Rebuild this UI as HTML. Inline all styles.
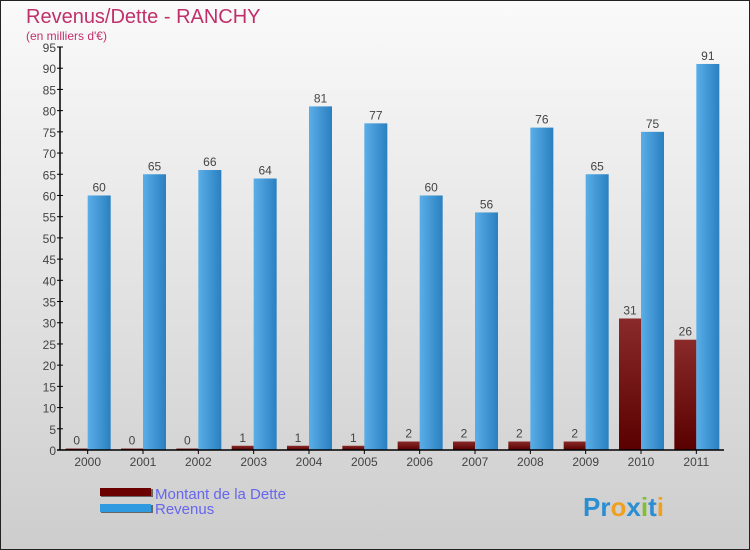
<!DOCTYPE html>
<html><head><meta charset="utf-8"><style>
body{margin:0}
#c{width:750px;height:550px;position:relative;overflow:hidden;font-family:"Liberation Sans",sans-serif}
</style></head><body>
<div id="c">
<svg width="750" height="550" xmlns="http://www.w3.org/2000/svg">
<defs>
<linearGradient id="bg" x1="0" y1="0" x2="0" y2="1"><stop offset="0" stop-color="#fafafa"/><stop offset="1" stop-color="#cdcdcd"/></linearGradient>
<linearGradient id="blue" x1="0" y1="0" x2="1" y2="0"><stop offset="0" stop-color="#5aaee8"/><stop offset="1" stop-color="#2a7fc0"/></linearGradient>
<linearGradient id="blueV" x1="0" y1="0" x2="0" y2="1"><stop offset="0" stop-color="#58aee8"/><stop offset="1" stop-color="#2878b4"/></linearGradient>
<linearGradient id="red" x1="0" y1="0" x2="0" y2="1"><stop offset="0" stop-color="#8a2a2a"/><stop offset="1" stop-color="#5a0000"/></linearGradient>
</defs>
<rect x="0.5" y="0.5" width="749" height="549" fill="url(#bg)" stroke="#222"/>
<text x="26" y="23" font-size="20" fill="#c0306a">Revenus/Dette - RANCHY</text>
<text x="26" y="40" font-size="12" fill="#c0306a">(en milliers d'€)</text>
<g id="plot"></g>
<g>
<rect x="101" y="489" width="52" height="8" fill="#666"/><rect x="100" y="488" width="51" height="8" fill="#6a0000"/>
<text x="155" y="499" font-size="15" fill="#6666ee">Montant de la Dette</text>
<rect x="101" y="505" width="52" height="8" fill="#666"/><rect x="100" y="504" width="51" height="8" fill="#2f9ae0"/>
<text x="155" y="514" font-size="15" fill="#6666ee">Revenus</text>
</g>
<text x="583" y="516" font-size="26" font-weight="bold"><tspan fill="#2a8ed0">Pr</tspan><tspan fill="#f0a020">o</tspan><tspan fill="#2a8ed0">x</tspan><tspan fill="#80c030">i</tspan><tspan fill="#2a8ed0">t</tspan><tspan fill="#f0a020">i</tspan></text>
</svg>
</div>
<script>
const years=["2000","2001","2002","2003","2004","2005","2006","2007","2008","2009","2010","2011"];
const dette=[0,0,0,1,1,1,2,2,2,2,31,26];
const revenus=[60,65,66,64,81,77,60,56,76,65,75,91];
const yTicks=[0,5,10,15,20,25,30,35,40,45,50,55,60,65,70,75,80,85,90,95];
const NS="http://www.w3.org/2000/svg";
const g=document.getElementById('plot');
const x0=60,x1=724,y0=450,yTop=47,yMax=95;
const gw=(x1-x0)/years.length;
const y=v=>y0-(v/yMax)*(y0-yTop);
function mk(t,a,p){const e=document.createElementNS(NS,t);for(const k in a)e.setAttribute(k,a[k]);(p||g).appendChild(e);return e;}
yTicks.forEach(v=>{
 const t=mk('text',{x:x0-4,y:y(v)+5,'font-size':12,fill:'#444','text-anchor':'end'});
 
 
 t.textContent=v;
 const l=mk('line',{x1:x0-3,x2:x0+3,y1:y(v),y2:y(v),stroke:'#000'});
 
 
});
years.forEach((yr,i)=>{
 const c=x0+gw*(i+0.5);
 const dh=Math.max(y0-y(dette[i]),1.5);
 const d=mk('rect',{x:c-22,y:y0-dh,width:22,height:dh,fill:'url(#red)'});
 
 
 const r=mk('rect',{x:c,y:y(revenus[i]),width:23,height:y0-y(revenus[i]),fill:'url(#blue)'});
 
 
 const t1=mk('text',{x:c-11,y:y0-dh-4,'font-size':12,fill:'#444','text-anchor':'middle'});
 
 
 t1.textContent=dette[i];
 const t2=mk('text',{x:c+11.5,y:y(revenus[i])-4,'font-size':12,fill:'#444','text-anchor':'middle'});
 
 
 t2.textContent=revenus[i];
 const xt=mk('text',{x:c,y:y0+16,'font-size':12,fill:'#444','text-anchor':'middle'});
 
 
 xt.textContent=yr;
 const tk=mk('line',{x1:c,x2:c,y1:y0,y2:y0+4,stroke:'#000'});
 
 
});
const ya=mk('line',{x1:x0,x2:x0,y1:yTop,y2:y0,stroke:'#000','stroke-width':1.5});


const xa=mk('line',{x1:x0-3,x2:x1,y1:y0,y2:y0,stroke:'#000','stroke-width':1.5});


</script>
</body></html>
